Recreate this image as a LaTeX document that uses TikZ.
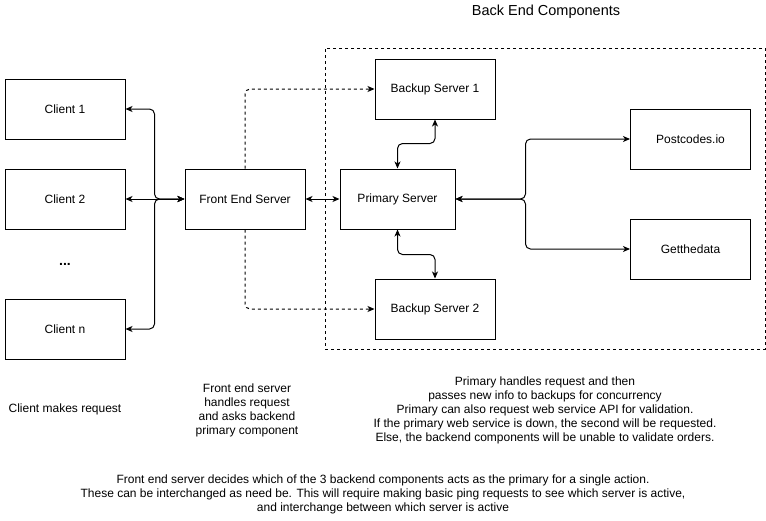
\documentclass[tikz,border=0pt]{standalone}
\usepackage{fontspec}
\setmainfont{Liberation Sans}
\usepackage{tikz}
\usetikzlibrary{arrows.meta,positioning}

\begin{document}
\begin{tikzpicture}[
    x=1pt, y=-1pt,
    line width=1pt,
    font=\fontsize{12}{14}\selectfont,
    >={Stealth[length=7pt,width=6pt,inset=2pt]},
    comp/.style={draw, rectangle, minimum width=120pt, minimum height=60pt, align=center},
    backend/.style={draw, dash pattern=on 3pt off 3pt, rectangle, minimum width=440pt, minimum height=301pt},
    note/.style={align=center, inner sep=0pt},
    link/.style={<->, rounded corners=5pt},
    ping/.style={->, dash pattern=on 3pt off 3pt, rounded corners=5pt}
]
    \useasboundingbox (0,0) rectangle (766,520);

    % back end group
    \node[backend] (be) at (545,198.5) {};
    \node[note, font=\fontsize{14.5}{16}\selectfont] (betitle) at (546,12) {Back End Components};

    % clients
    \node[comp] (c1) at (65,109) {Client 1};
    \node[comp] (c2) at (65,199) {Client 2};
    \node[note, font=\fontsize{14}{16}\selectfont\bfseries] (dots) at (65,264) {...};
    \node[comp] (cn) at (65,329) {Client n};

    \node[comp] (fe) at (245,199) {Front End Server};

    % servers
    \node[comp] (bs1) at (435,89) {Backup Server 1};
    \node[comp, minimum width=115pt] (prim) at (397.5,199) {Primary Server};
    \node[comp] (bs2) at (435,309) {Backup Server 2};

    % web services
    \node[comp] (pc) at (690.5,139) {Postcodes.io};
    \node[comp] (gd) at (690.5,249) {Getthedata};

    \draw[link] (fe.west) -- ++(-30,0) |- (c1.east);
    \draw[link] (fe.west) -- (c2.east);
    \draw[link] (fe.west) -- ++(-30,0) |- (cn.east);

    \draw[link] (fe.east) -- (prim.west);
    \draw[ping] (fe.north) |- (bs1.west);
    \draw[ping] (fe.south) |- (bs2.west);

    \draw[link] (prim.north) -- ++(0,-25) -| (bs1.south);
    \draw[link] (prim.south) -- ++(0,25) -| (bs2.north);

    \draw[link] (prim.east) -- ++(70,0) |- (pc.west);
    \draw[link] (prim.east) -- ++(70,0) |- (gd.west);

    % notes
    \node[note] (n1) at (65,409) {Client makes request};
    \node[note] (n2) at (247,410) {Front end server\\handles request\\and asks backend\\primary component};
    \node[note] (n3) at (545,410) {Primary handles request and then\\passes new info to backups for concurrency\\Primary can also request web service API for validation.\\If the primary web service is down, the second will be requested.\\Else, the backend components will be unable to validate orders.};
    \node[note] (n4) at (383,494) {Front end server decides which of the 3 backend components acts as the primary for a single action.\\These can be interchanged as need be. This will require making basic ping requests to see which server is active,\\and interchange between which server is active};
\end{tikzpicture}
\end{document}
